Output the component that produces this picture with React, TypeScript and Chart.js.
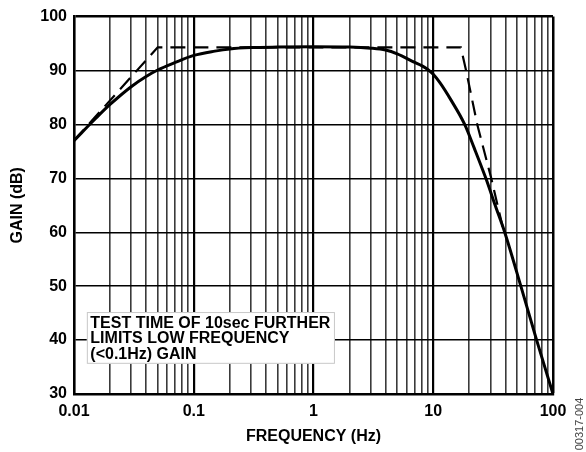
import React, { useEffect, useRef } from "react";
import { Chart, registerables } from "chart.js";

Chart.register(...registerables);

// ---- data ----
const solidFreq = [0.01, 0.015, 0.02, 0.03, 0.04, 0.05, 0.07, 0.1, 0.15, 0.2, 0.3, 0.5, 1, 2, 3, 4, 5, 7, 8, 9, 10, 11.4, 14, 18.3, 22, 27.5, 33, 39.5, 53.9, 73, 100];
const solidGain = [77, 81.0, 83.7, 87.0, 88.9, 90.1, 91.5, 92.8, 93.6, 94.0, 94.25, 94.35, 94.4, 94.35, 94.15, 93.8, 93.1, 91.5, 90.9, 90.2, 89.3, 87.7, 84.6, 80, 75.6, 70, 64.9, 60, 50, 40, 30];

const dashFreq = [0.01, 0.05, 17, 18.8, 23.3, 30.5, 38];
const dashGain = [77, 94.3, 94.3, 90, 80, 70, 61];

const decades = [0.01, 0.1, 1, 10, 100];
const decadeLabels = ["0.01", "0.1", "1", "10", "100"];
const minorMultipliers = [1, 2, 3, 4, 5, 6, 7, 8, 9];
const yTicks = [30, 40, 50, 60, 70, 80, 90, 100];

const noteLines = ["TEST TIME OF 10sec FURTHER", "LIMITS LOW FREQUENCY", "(<0.1Hz) GAIN"];
const figureCode = "00317-004";

// annotation box anchor in data units
const noteX0 = 0.0128;
const noteX1 = 1.51;
const noteYTop = 45.2;
const noteYBottom = 35.6;

const FONT = "'Liberation Sans', Arial, Helvetica, sans-serif";

export default function App() {
  const ref = useRef<HTMLCanvasElement | null>(null);

  useEffect(() => {
    const canvas = ref.current;
    if (!canvas) return;

    const xGridValues: number[] = [];
    decades.forEach((d, i) => {
      if (i === decades.length - 1) {
        xGridValues.push(d);
      } else {
        minorMultipliers.forEach((m) => xGridValues.push(+(d * m).toPrecision(6)));
      }
    });

    const isDecade = (v: number) => decades.some((d) => Math.abs(d - v) / d < 1e-6);

    const notePlugin = {
      id: "notePlugin",
      afterDatasetsDraw(chart: any) {
        const { ctx, scales } = chart;
        const xs = scales.x;
        const ys = scales.y;
        const left = xs.getPixelForValue(noteX0);
        const right = xs.getPixelForValue(noteX1);
        const top = ys.getPixelForValue(noteYTop);
        const bottom = ys.getPixelForValue(noteYBottom);
        ctx.save();
        ctx.fillStyle = "#fff";
        ctx.fillRect(left, top, right - left, bottom - top);
        ctx.strokeStyle = "#c8c8c8";
        ctx.lineWidth = 1;
        ctx.strokeRect(left + 0.5, top + 0.5, right - left - 1, bottom - top - 1);
        ctx.fillStyle = "#000";
        ctx.font = `bold 16px ${FONT}`;
        ctx.textBaseline = "middle";
        ctx.textAlign = "left";
        noteLines.forEach((line, i) => {
          ctx.fillText(line, left + 3.5, top + 11.5 + i * 15.4);
        });
        ctx.restore();
      },
      afterDraw(chart: any) {
        const { ctx } = chart;
        ctx.save();
        ctx.translate(579.5, 424);
        ctx.rotate(-Math.PI / 2);
        ctx.fillStyle = "#444";
        ctx.font = `11px ${FONT}`;
        ctx.textAlign = "center";
        ctx.textBaseline = "middle";
        ctx.fillText(figureCode, 0, 0);
        ctx.restore();
      },
    };

    const chart = new Chart(canvas, {
      type: "line",
      data: {
        datasets: [
          {
            label: "Gain",
            data: solidFreq.map((f, i) => ({ x: f, y: solidGain[i] })),
            borderColor: "#000",
            borderWidth: 3,
            pointRadius: 0,
            fill: false,
            cubicInterpolationMode: "monotone",
            borderJoinStyle: "round",
          },
          {
            label: "Asymptote",
            data: dashFreq.map((f, i) => ({ x: f, y: dashGain[i] })),
            borderColor: "#000",
            borderWidth: 2.2,
            borderDash: [15, 8],
            pointRadius: 0,
            fill: false,
            tension: 0,
          },
        ],
      },
      options: {
        responsive: false,
        animation: false,
        events: [],
        layout: { padding: { left: 0, right: 33, top: 11, bottom: 0 } },
        plugins: {
          legend: { display: false },
          tooltip: { enabled: false },
        },
        scales: {
          x: {
            type: "logarithmic",
            min: 0.01,
            max: 100,
            afterFit: (scale: any) => {
              scale.height = 58;
            },
            afterBuildTicks: (scale: any) => {
              scale.ticks = xGridValues.map((v) => ({ value: v }));
            },
            ticks: {
              autoSkip: false,
              maxRotation: 0,
              minRotation: 0,
              padding: 8,
              color: "#000",
              font: { family: FONT, size: 16, weight: "bold" },
              callback: (value: any) => {
                const idx = decades.findIndex((d) => Math.abs(d - Number(value)) / d < 1e-6);
                return idx >= 0 ? decadeLabels[idx] : "";
              },
            },
            grid: {
              drawTicks: false,
              color: (ctx: any) => (isDecade(ctx.tick?.value) ? "#000" : "#3a3a3a"),
              lineWidth: (ctx: any) => {
                const v = ctx.tick?.value;
                if (v === 100) return 2.5;
                return isDecade(v) ? 2.2 : 1.6;
              },
            },
            border: { display: true, color: "#000", width: 2.5 },
            title: {
              display: true,
              text: "FREQUENCY (Hz)",
              color: "#000",
              font: { family: FONT, size: 16, weight: "bold" },
              padding: { top: 0, bottom: 6 },
            },
          },
          y: {
            type: "linear",
            min: 30,
            max: 100,
            afterFit: (scale: any) => {
              scale.width = 74;
            },
            afterBuildTicks: (scale: any) => {
              scale.ticks = yTicks.map((v) => ({ value: v }));
            },
            ticks: {
              padding: 7,
              color: "#000",
              font: { family: FONT, size: 16, weight: "bold" },
            },
            grid: {
              drawTicks: false,
              color: "#000",
              lineWidth: (ctx: any) => (ctx.tick?.value === 100 ? 2.5 : 1.5),
            },
            border: { display: true, color: "#000", width: 2.5 },
            title: {
              display: true,
              text: "GAIN (dB)",
              color: "#000",
              font: { family: FONT, size: 16, weight: "bold" },
              padding: { top: 8, bottom: 0 },
            },
          },
        },
      },
      plugins: [notePlugin],
    } as any);

    return () => chart.destroy();
  }, []);

  return (
    <div style={{ position: "absolute", left: 0, top: 0, width: 586, height: 452, background: "#fff" }}>
      <canvas ref={ref} width={586} height={452} />
    </div>
  );
}
